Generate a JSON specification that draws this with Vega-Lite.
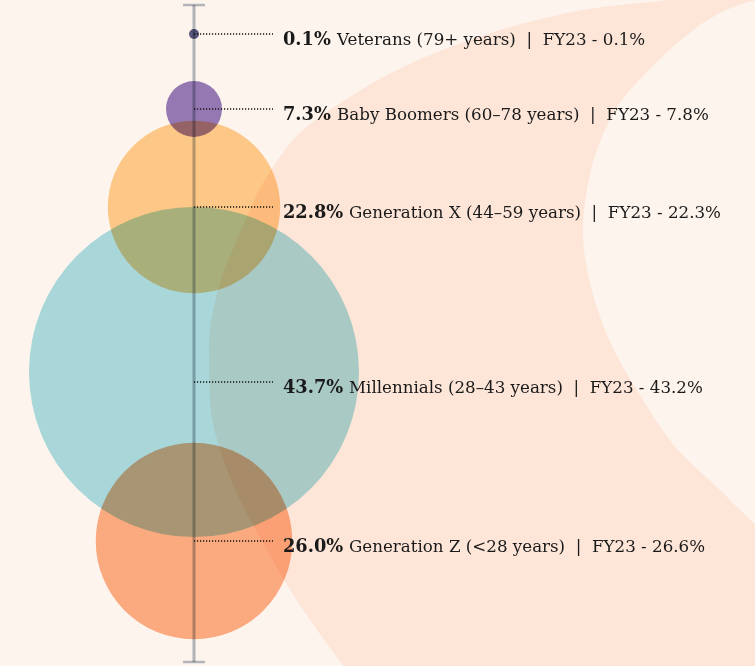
{
  "$schema": "https://vega.github.io/schema/vega-lite/v6.json",
  "width": 755,
  "height": 666,
  "padding": 0,
  "autosize": "none",
  "background": "#fdf4ee",
  "config": {"view": {"stroke": null}},
  "datasets": {
    "gens": [
      {"rank": 1, "generation": "Veterans", "label": "Veterans (79+ years)", "pct": 0.1, "fy23": 0.1},
      {"rank": 2, "generation": "Baby Boomers", "label": "Baby Boomers (60–78 years)", "pct": 7.3, "fy23": 7.8},
      {"rank": 3, "generation": "Generation X", "label": "Generation X (44–59 years)", "pct": 22.8, "fy23": 22.3},
      {"rank": 4, "generation": "Millennials", "label": "Millennials (28–43 years)", "pct": 43.7, "fy23": 43.2},
      {"rank": 5, "generation": "Generation Z", "label": "Generation Z (<28 years)", "pct": 26.0, "fy23": 26.6}
    ],
    "backdrop": [
      {"py": -5, "outer": 700, "inner": 790},
      {"py": 0, "outer": 668, "inner": 758},
      {"py": 7, "outer": 603, "inner": 734},
      {"py": 20, "outer": 537, "inner": 708},
      {"py": 40, "outer": 470, "inner": 681},
      {"py": 67, "outer": 403, "inner": 652},
      {"py": 100, "outer": 345, "inner": 622},
      {"py": 130, "outer": 303, "inner": 605},
      {"py": 170, "outer": 271, "inner": 591},
      {"py": 233, "outer": 240, "inner": 583},
      {"py": 283, "outer": 220, "inner": 590},
      {"py": 350, "outer": 209, "inner": 614},
      {"py": 400, "outer": 210, "inner": 643},
      {"py": 450, "outer": 220, "inner": 678},
      {"py": 500, "outer": 240, "inner": 730},
      {"py": 550, "outer": 267, "inner": 770},
      {"py": 585, "outer": 287, "inner": 770},
      {"py": 620, "outer": 310, "inner": 770},
      {"py": 672, "outer": 348, "inner": 770}
    ]
  },
  "resolve": {"scale": {"y": "independent", "size": "independent", "color": "independent"}},
  "layer": [
    {
      "data": {"name": "backdrop"},
      "mark": {"type": "area", "orient": "horizontal", "interpolate": "monotone", "color": "#fde5d8", "clip": true},
      "encoding": {
        "y": {"field": "py", "type": "quantitative", "axis": null, "scale": {"domain": [0, 666], "range": [0, 666], "nice": false, "zero": false}},
        "x": {"field": "outer", "type": "quantitative", "axis": null, "scale": {"domain": [0, 755], "nice": false, "zero": false}},
        "x2": {"field": "inner"}
      }
    },
    {
      "data": {"name": "gens"},
      "mark": {"type": "circle", "opacity": 1, "blend": "multiply"},
      "encoding": {
        "x": {"datum": 194, "type": "quantitative", "axis": null, "scale": {"domain": [0, 755], "nice": false, "zero": false}},
        "y": {"field": "rank", "type": "quantitative", "axis": null, "scale": {"domain": [1, 2, 3, 4, 5], "range": [34, 109, 207, 372, 541], "nice": false, "zero": false}},
        "size": {"field": "pct", "type": "quantitative", "legend": null, "scale": {"type": "pow", "exponent": 2, "domain": [0, 43.7], "range": [100, 108900], "zero": false}},
        "color": {"field": "generation", "type": "nominal", "legend": null, "scale": {"domain": ["Veterans", "Baby Boomers", "Generation X", "Millennials", "Generation Z"], "range": ["#5a5b85", "#967dbf", "#ffd191", "#abe0e8", "#fdb289"]}}
      }
    },
    {
      "data": {"values": [{}]},
      "mark": {"type": "rule", "color": "#b4bcc4", "strokeWidth": 3, "blend": "multiply"},
      "encoding": {
        "x": {"datum": 194, "type": "quantitative", "axis": null, "scale": {"domain": [0, 755], "nice": false, "zero": false}},
        "y": {"datum": 5, "type": "quantitative", "axis": null, "scale": {"domain": [0, 666], "range": [0, 666], "nice": false, "zero": false}},
        "y2": {"datum": 662}
      }
    },
    {
      "data": {"values": [{}]},
      "mark": {"type": "rule", "color": "#b4bcc4", "strokeWidth": 2.5, "blend": "multiply"},
      "encoding": {
        "x": {"datum": 183, "type": "quantitative", "axis": null, "scale": {"domain": [0, 755], "nice": false, "zero": false}},
        "x2": {"datum": 205},
        "y": {"datum": 5, "type": "quantitative", "axis": null, "scale": {"domain": [0, 666], "range": [0, 666], "nice": false, "zero": false}}
      }
    },
    {
      "data": {"values": [{}]},
      "mark": {"type": "rule", "color": "#b4bcc4", "strokeWidth": 2.5, "blend": "multiply"},
      "encoding": {
        "x": {"datum": 183, "type": "quantitative", "axis": null, "scale": {"domain": [0, 755], "nice": false, "zero": false}},
        "x2": {"datum": 205},
        "y": {"datum": 662, "type": "quantitative", "axis": null, "scale": {"domain": [0, 666], "range": [0, 666], "nice": false, "zero": false}}
      }
    },
    {
      "data": {"name": "gens"},
      "mark": {"type": "rule", "color": "#111111", "strokeWidth": 1.4, "strokeDash": [1.2, 1.8]},
      "encoding": {
        "x": {"datum": 194, "type": "quantitative", "axis": null, "scale": {"domain": [0, 755], "nice": false, "zero": false}},
        "x2": {"datum": 273},
        "y": {"field": "rank", "type": "quantitative", "axis": null, "scale": {"domain": [1, 2, 3, 4, 5], "range": [34, 109, 207, 382, 541], "nice": false, "zero": false}}
      }
    },
    {
      "data": {"name": "gens"},
      "transform": [{"calculate": "format(datum.pct, '.1f') + '%'", "as": "pctLabel"}],
      "mark": {"type": "text", "align": "left", "baseline": "alphabetic", "dy": 10.5, "font": "DejaVu Serif", "fontWeight": "bold", "fontSize": 17.8, "color": "#1a1a1a"},
      "encoding": {
        "x": {"datum": 283, "type": "quantitative", "axis": null, "scale": {"domain": [0, 755], "nice": false, "zero": false}},
        "y": {"field": "rank", "type": "quantitative", "axis": null, "scale": {"domain": [1, 2, 3, 4, 5], "range": [34, 109, 207, 382, 541], "nice": false, "zero": false}},
        "text": {"field": "pctLabel"}
      }
    },
    {
      "data": {"name": "gens"},
      "transform": [
        {"calculate": "datum.label + '\u00a0\u00a0|\u00a0\u00a0FY23 - ' + format(datum.fy23, '.1f') + '%'", "as": "rest"},
        {"calculate": "283 + (datum.pct >= 10 ? 66 : 54)", "as": "restX"}
      ],
      "mark": {"type": "text", "align": "left", "baseline": "alphabetic", "dy": 10.5, "font": "DejaVu Serif", "fontSize": 16.7, "color": "#1a1a1a"},
      "encoding": {
        "x": {"field": "restX", "type": "quantitative", "axis": null, "scale": {"domain": [0, 755], "nice": false, "zero": false}},
        "y": {"field": "rank", "type": "quantitative", "axis": null, "scale": {"domain": [1, 2, 3, 4, 5], "range": [34, 109, 207, 382, 541], "nice": false, "zero": false}},
        "text": {"field": "rest"}
      }
    }
  ]
}
